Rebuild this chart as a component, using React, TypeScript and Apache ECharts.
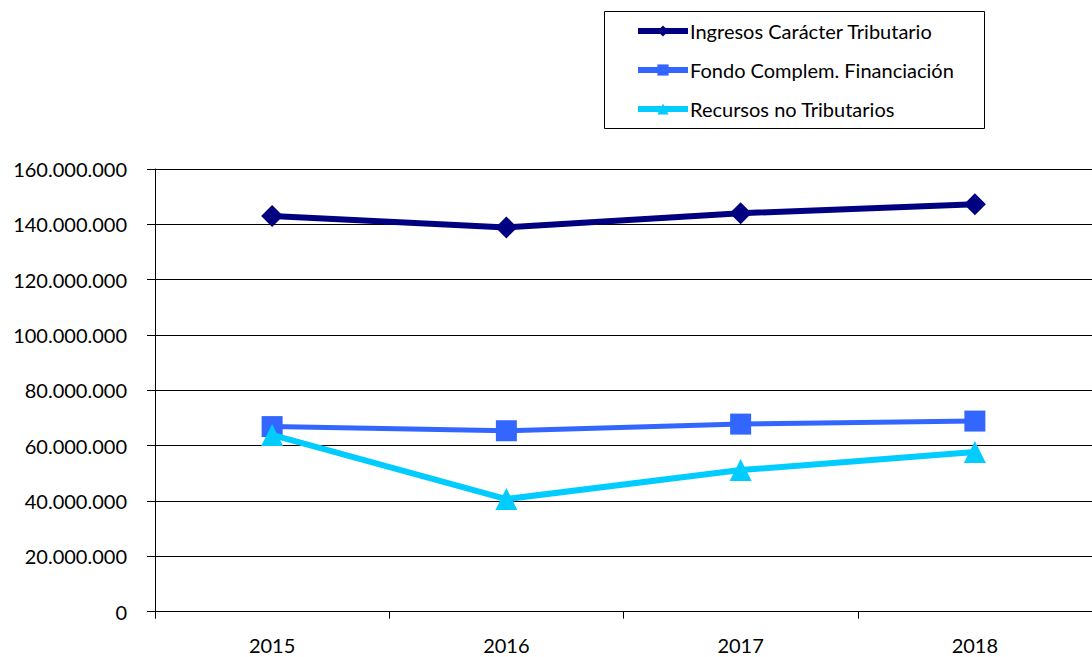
import React, { useEffect, useRef } from "react";
import * as echarts from "echarts";

const years = ["2015", "2016", "2017", "2018"];
const ingresosTributario = [143000000, 138900000, 144000000, 147300000];
const fondoComplem = [66900000, 65400000, 67800000, 68900000];
const recursosNoTrib = [63900000, 40700000, 51200000, 57700000];
const seriesNames = [
  "Ingresos Carácter Tributario",
  "Fondo Complem. Financiación",
  "Recursos no Tributarios",
];
const seriesColors = ["#000080", "#3366FF", "#00CCFF"];

const fmt = (v: number) =>
  String(Math.round(v)).replace(/\B(?=(\d{3})+(?!\d))/g, ".");

export default function App() {
  const ref = useRef<HTMLDivElement>(null);
  useEffect(() => {
    if (!ref.current) return;
    const chart = echarts.init(ref.current, null, { renderer: "svg" });
    const font = "Lato";
    chart.setOption({
      animation: false,
      backgroundColor: "#ffffff",
      textStyle: { fontFamily: font },
      graphic: [
        {
          type: "rect",
          shape: { x: 604.5, y: 11.5, width: 380, height: 117 },
          style: { fill: "#ffffff", stroke: "#000000", lineWidth: 1 },
          z: 0,
        },
      ],
      legend: {
        orient: "vertical",
        left: 635,
        top: 21,
        itemWidth: 50,
        itemHeight: 14,
        itemGap: 19,
        padding: 0,
        z: 10,
        textStyle: { fontFamily: font, fontSize: 20, color: "#000", padding: [0, 0, 0, -3] },
        data: seriesNames.map((n) => ({ name: n, lineStyle: { width: 6 } })),
      },
      grid: { left: 155, top: 169, width: 943, height: 442.7, containLabel: false },
      xAxis: {
        type: "category",
        data: years,
        boundaryGap: true,
        axisLine: { lineStyle: { color: "#000", width: 1 } },
        axisTick: { show: true, length: 7, lineStyle: { color: "#000" } },
        axisLabel: { fontFamily: font, fontSize: 20, color: "#000", margin: 23 },
      },
      yAxis: {
        type: "value",
        min: 0,
        max: 160000000,
        interval: 20000000,
        axisLine: { show: true, lineStyle: { color: "#000", width: 1 } },
        axisTick: { show: true, length: 8, lineStyle: { color: "#000" } },
        splitLine: { show: true, lineStyle: { color: "#000", width: 1 } },
        axisLabel: {
          fontFamily: font,
          fontSize: 20,
          color: "#000",
          margin: 28,
          formatter: (v: number) => fmt(v),
        },
      },
      series: [
        {
          name: seriesNames[0],
          type: "line",
          data: ingresosTributario,
          symbol: "diamond",
          symbolSize: 22,
          color: seriesColors[0],
          lineStyle: { width: 6, color: seriesColors[0] },
          itemStyle: { color: seriesColors[0] },
          z: 3,
        },
        {
          name: seriesNames[1],
          type: "line",
          data: fondoComplem,
          symbol: "rect",
          symbolSize: 21,
          color: seriesColors[1],
          lineStyle: { width: 5, color: seriesColors[1] },
          itemStyle: { color: seriesColors[1] },
          z: 2,
        },
        {
          name: seriesNames[2],
          type: "line",
          data: recursosNoTrib,
          symbol: "triangle",
          symbolSize: [22, 22],
          color: seriesColors[2],
          lineStyle: { width: 6, color: seriesColors[2] },
          itemStyle: { color: seriesColors[2] },
          z: 4,
        },
      ],
    });
    return () => chart.dispose();
  }, []);
  return (
    <div
      ref={ref}
      style={{ position: "fixed", left: 0, top: 0, width: 1092, height: 657, background: "#fff" }}
    />
  );
}
